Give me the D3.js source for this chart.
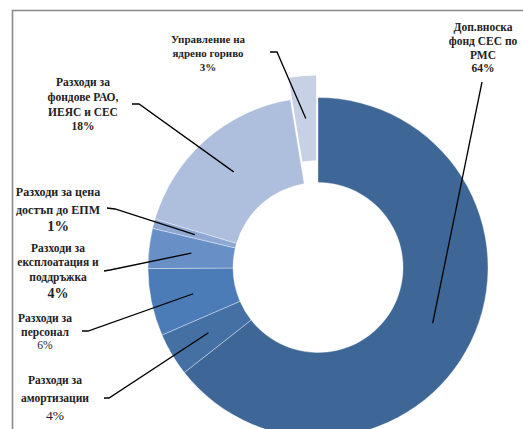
<!DOCTYPE html>
<html>
<head>
<meta charset="utf-8">
<script src="https://cdn.jsdelivr.net/npm/d3@7"></script>
<style>
  html, body { margin: 0; padding: 0; background: #fff; }
  svg { display: block; }
</style>
</head>
<body>
<svg id="chart" width="523" height="429"></svg>
<script>
// ---- data ----
const categories = [
  "Доп.вноска фонд СЕС по РМС",
  "Разходи за амортизации",
  "Разходи за персонал",
  "Разходи за експлоатация и поддръжка",
  "Разходи за цена достъп до ЕПМ",
  "Разходи за фондове РАО, ИЕЯС и СЕС",
  "Управление на ядрено гориво"
];
const values = [64.4, 4.1, 6.4, 3.8, 0.9, 17.8, 2.6];
const labelLines = [
  ["Доп.вноска", "фонд СЕС по", "РМС"],
  ["Разходи за", "амортизации"],
  ["Разходи за", "персонал"],
  ["Разходи за", "експлоатация и", "поддръжка"],
  ["Разходи за цена", "достъп до ЕПМ"],
  ["Разходи за", "фондове РАО,", "ИЕЯС и СЕС"],
  ["Управление на", "ядрено гориво"]
];
const percentLabels = ["64%", "4%", "6%", "4%", "1%", "18%", "3%"];
const explodedIndex = 6;

// ---- styles / layout ----
const colors = ["#3E6797", "#4470A4", "#4B7CB8", "#6890C6", "#8CA8D3", "#AEBFDD", "#C7D1E6"];
const cx = 318, cy = 267.5, rOuter = 170, rInner = 85, explode = 22;
// label layout: x center, y of each line (baselines), font settings, leader start & elbow
const layout = [
  {x: 483, ys: [31, 45, 59, 72], size: 11.5, pctSize: 11.5, pctWeight: "bold", start: [482, 82], elbow: null},
  {x: 55, ys: [384, 402, 420], size: 11.5, pctSize: 13.5, pctWeight: "normal", start: [104, 398], elbow: [109, 398]},
  {x: 45, ys: [322, 336, 349], size: 11.5, pctSize: 11.5, pctWeight: "normal", start: [82, 331], elbow: [88, 331]},
  {x: 58, ys: [252, 266, 281, 298], size: 11.5, pctSize: 14, pctWeight: "bold", start: [104, 271], elbow: [110, 270]},
  {x: 58, ys: [196, 214, 231], size: 12, pctSize: 14.5, pctWeight: "bold", start: [107, 208], elbow: [115, 209]},
  {x: 83, ys: [86, 101, 116, 130], size: 11.5, pctSize: 11.5, pctWeight: "bold", start: [132, 104], elbow: [139, 104]},
  {x: 208, ys: [43, 57, 71], size: 11, pctSize: 11, pctWeight: "bold", start: [270, 52], elbow: [277, 52]}
];

const svg = d3.select("#chart");
const font = "'Liberation Serif', 'DejaVu Serif', serif";

// frame
svg.append("path")
  .attr("d", "M12.5,440 V10.5 H540")
  .attr("fill", "none")
  .attr("stroke", "#8a8a8a")
  .attr("stroke-width", 1.6);

const pie = d3.pie().sort(null).value(d => d).startAngle(0).endAngle(2 * Math.PI);
const arcs = pie(values);
const arc = d3.arc().innerRadius(rInner).outerRadius(rOuter);

const g = svg.append("g").attr("transform", `translate(${cx},${cy})`);

function offsetOf(a, i) {
  if (i !== explodedIndex) return [0, 0];
  const mid = (a.startAngle + a.endAngle) / 2;
  return [explode * Math.sin(mid), -explode * Math.cos(mid)];
}

g.selectAll("path.slice")
  .data(arcs)
  .join("path")
  .attr("class", "slice")
  .attr("d", arc)
  .attr("transform", (a, i) => { const o = offsetOf(a, i); return `translate(${o[0]},${o[1]})`; })
  .attr("fill", (a, i) => colors[i])
  .attr("stroke", "#ffffff")
  .attr("stroke-width", (a, i) => i === explodedIndex ? 0 : 0.6)
  .attr("stroke-opacity", 0.6);

// leader lines
const leaders = svg.append("g");
arcs.forEach((a, i) => {
  const c = arc.centroid(a);
  const o = offsetOf(a, i);
  const end = [cx + c[0] + o[0], cy + c[1] + o[1]];
  const L = layout[i];
  const pts = [L.start];
  if (L.elbow) pts.push(L.elbow);
  pts.push(end);
  leaders.append("path")
    .attr("d", d3.line()(pts))
    .attr("fill", "none")
    .attr("stroke", "#000")
    .attr("stroke-width", 1.3);
});

// labels
const labels = svg.append("g").attr("font-family", font).attr("fill", "#222").attr("text-anchor", "middle");
categories.forEach((cat, i) => {
  const L = layout[i];
  const lines = labelLines[i];
  lines.forEach((ln, j) => {
    labels.append("text")
      .attr("x", L.x).attr("y", L.ys[j])
      .attr("font-size", L.size)
      .attr("font-weight", "bold")
      .text(ln);
  });
  labels.append("text")
    .attr("x", L.x).attr("y", L.ys[lines.length])
    .attr("font-size", L.pctSize)
    .attr("font-weight", L.pctWeight)
    .text(percentLabels[i]);
});
</script>
</body>
</html>
